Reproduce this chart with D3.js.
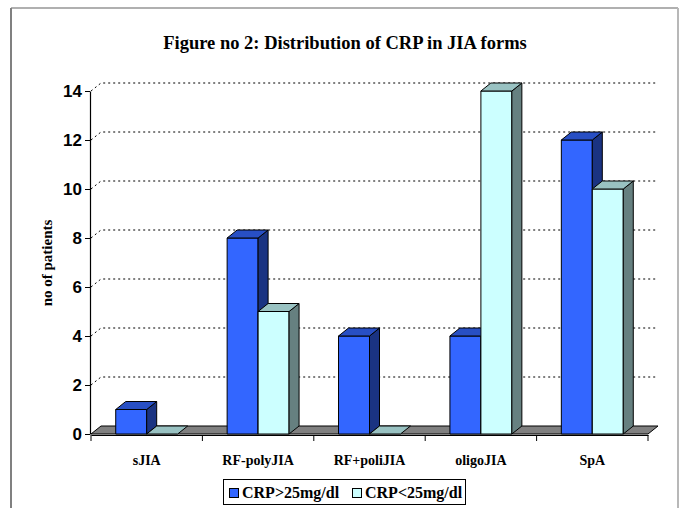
<!DOCTYPE html>
<html>
<head>
<meta charset="utf-8">
<script src="https://cdn.jsdelivr.net/npm/d3@7"></script>
<style>
  html, body { margin: 0; padding: 0; background: #fff; }
  svg { display: block; }
</style>
</head>
<body>
<svg id="chart" width="684" height="508"></svg>
<script>
// Chart data
const categories = ["sJIA", "RF-polyJIA", "RF+poliJIA", "oligoJIA", "SpA"];
const seriesNames = ["CRP>25mg/dl", "CRP<25mg/dl"];
const crpHigh = [1, 8, 4, 4, 12];
const crpLow = [0, 5, 0, 14, 10];
const yTicks = [0, 2, 4, 6, 8, 10, 12, 14];

const seriesValues = [crpHigh, crpLow];
const faceColors = [
  { front: "#3366ff", top: "#284fc4", side: "#1a3382" },
  { front: "#ccffff", top: "#99c2c2", side: "#668080" }
];

const svg = d3.select("#chart");
const W = 684, H = 508;

// Depth offset of the 3D boxes
const DX = 10, DY = -8;

const x0 = d3.scaleBand().domain(categories).range([91, 648]).padding(0);
const x1 = d3.scaleBand().domain(seriesNames)
  .range([x0.bandwidth() * 0.222, x0.bandwidth() * 0.778]).padding(0);
const y = d3.scaleLinear().domain([0, 14]).range([434, 91]);

// Outer frame
svg.append("line").attr("x1", 11).attr("y1", 8).attr("x2", 678).attr("y2", 8)
  .attr("stroke", "#b0b0b0").attr("stroke-width", 2);
svg.append("line").attr("x1", 11).attr("y1", 8).attr("x2", 11).attr("y2", H)
  .attr("stroke", "#808080").attr("stroke-width", 2);
svg.append("line").attr("x1", 678).attr("y1", 8).attr("x2", 678).attr("y2", H)
  .attr("stroke", "#b8b8b8").attr("stroke-width", 2);

// Title
svg.append("text")
  .attr("x", 345).attr("y", 49)
  .attr("text-anchor", "middle")
  .attr("font-family", "'Liberation Serif', 'Times New Roman', serif")
  .attr("font-weight", "bold").attr("font-size", 18.5)
  .text("Figure no 2: Distribution of CRP in JIA forms");

// Back gridlines (dotted), with a short diagonal along the left wall
const xStart = x0.range()[0], xEnd = x0.range()[1];
const grid = svg.append("g");
yTicks.filter(d => d > 0).forEach(d => {
  grid.append("path")
    .attr("d", `M${xStart},${y(d)}L${xStart + DX},${y(d) + DY}L${xEnd + DX},${y(d) + DY}`)
    .attr("fill", "none").attr("stroke", "#000").attr("stroke-width", 1)
    .attr("stroke-dasharray", "2,3");
});

// Floor
svg.append("path")
  .attr("d", `M${xStart},${y(0)}L${xEnd},${y(0)}L${xEnd + DX},${y(0) + DY}L${xStart + DX},${y(0) + DY}Z`)
  .attr("fill", "#808080").attr("stroke", "#000").attr("stroke-width", 1);

// 3D columns
const bars = svg.append("g");
categories.forEach((cat, i) => {
  seriesNames.forEach((s, j) => {
    const v = seriesValues[j][i];
    const xl = x0(cat) + x1(s);
    const xr = xl + x1.bandwidth();
    const yt = y(v), yb = y(0);
    const c = faceColors[j];
    const g = bars.append("g").attr("stroke", "#000").attr("stroke-width", 1).attr("stroke-linejoin", "round");
    if (v > 0) {
      g.append("rect").attr("x", xl).attr("y", yt).attr("width", xr - xl).attr("height", yb - yt)
        .attr("fill", c.front);
      g.append("path")
        .attr("d", `M${xr},${yt}L${xr + DX},${yt + DY}L${xr + DX},${yb + DY}L${xr},${yb}Z`)
        .attr("fill", c.side);
    }
    g.append("path")
      .attr("d", `M${xl},${yt}L${xr},${yt}L${xr + DX},${yt + DY}L${xl + DX},${yt + DY}Z`)
      .attr("fill", c.top);
  });
});

// Y axis
const yAxis = d3.axisLeft(y).tickValues(yTicks).tickSize(5).tickSizeOuter(0).tickPadding(3);
const yg = svg.append("g").attr("transform", `translate(90,0)`).call(yAxis);
yg.select(".domain").attr("stroke", "#000").attr("stroke-width", 1.2);
yg.selectAll(".tick line").attr("stroke", "#000");
yg.selectAll("text")
  .attr("font-family", "'Liberation Sans', Arial, sans-serif")
  .attr("font-weight", "bold").attr("font-size", 17).attr("fill", "#000");

// X axis
const xAxis = d3.axisBottom(x0).tickSize(0).tickPadding(20);
const xg = svg.append("g").attr("transform", `translate(0,${y(0) + 1})`).call(xAxis);
xg.select(".domain").attr("stroke", "#000").attr("stroke-width", 1.2);
xg.selectAll("text")
  .attr("font-family", "'Liberation Serif', 'Times New Roman', serif")
  .attr("font-weight", "bold").attr("font-size", 14).attr("fill", "#000");
// Tick marks at the category boundaries
const bounds = categories.map(c => x0(c)).concat([xEnd]);
xg.selectAll(".bound").data(bounds).enter().append("line")
  .attr("x1", d => d).attr("x2", d => d).attr("y1", 0).attr("y2", 6)
  .attr("stroke", "#000").attr("stroke-width", 1);

// Y axis title
svg.append("text")
  .attr("transform", "translate(52,263) rotate(-90)")
  .attr("text-anchor", "middle")
  .attr("font-family", "'Liberation Serif', 'Times New Roman', serif")
  .attr("font-weight", "bold").attr("font-size", 15)
  .text("no of patients");

// Legend
const lg = svg.append("g");
lg.append("rect").attr("x", 223.5).attr("y", 479.5).attr("width", 242).attr("height", 25)
  .attr("fill", "#fff").attr("stroke", "#000").attr("stroke-width", 1);
const legendItems = [
  { name: seriesNames[0], sx: 229, tx: 242, color: faceColors[0].front },
  { name: seriesNames[1], sx: 352, tx: 365, color: faceColors[1].front }
];
legendItems.forEach(it => {
  lg.append("rect").attr("x", it.sx + 0.5).attr("y", 488.5).attr("width", 9).attr("height", 9)
    .attr("fill", it.color).attr("stroke", "#000").attr("stroke-width", 1);
  lg.append("text").attr("x", it.tx).attr("y", 498)
    .attr("font-family", "'Liberation Serif', 'Times New Roman', serif")
    .attr("font-weight", "bold").attr("font-size", 16)
    .text(it.name);
});
</script>
</body>
</html>
